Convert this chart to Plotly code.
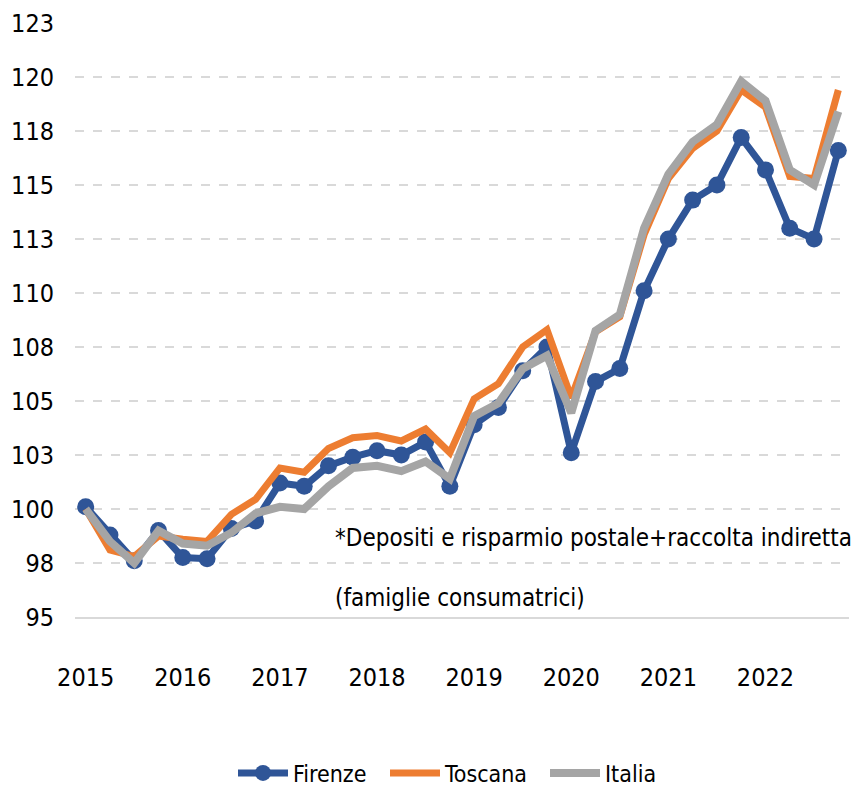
import plotly.graph_objects as go

quarters = list(range(32))
year_labels = ["2015", "2016", "2017", "2018", "2019", "2020", "2021", "2022"]
year_positions = [0, 4, 8, 12, 16, 20, 24, 28]

firenze = [100.1, 98.8, 97.6, 99.0, 97.75, 97.7, 99.1, 99.45,
           101.2, 101.05, 102.0, 102.4, 102.7, 102.5, 103.1, 101.05,
           103.9, 104.7, 106.4, 107.5, 102.6, 105.9, 106.5, 110.1,
           112.5, 114.3, 115.0, 117.2, 115.7, 113.0, 112.5, 116.6]
toscana = [100.0, 98.1, 97.8, 98.75, 98.6, 98.5, 99.75, 100.45,
           101.9, 101.7, 102.8, 103.3, 103.4, 103.15, 103.7, 102.6,
           105.1, 105.8, 107.5, 108.3, 105.15, 108.2, 108.9, 112.7,
           115.3, 116.7, 117.5, 119.4, 118.6, 115.4, 115.3, 119.4]
italia = [100.0, 98.5, 97.5, 99.0, 98.4, 98.3, 98.9, 99.8,
          100.1, 100.0, 101.05, 101.9, 102.0, 101.75, 102.2, 101.4,
          104.3, 104.9, 106.5, 107.1, 104.45, 108.25, 109.0, 113.0,
          115.5, 117.0, 117.8, 119.8, 118.9, 115.7, 115.0, 118.4]

y_ticks = [95, 97.5, 100, 102.5, 105, 107.5, 110, 112.5, 115, 117.5, 120, 122.5]
y_labels = ["95", "98", "100", "103", "105", "108", "110", "113", "115", "118", "120", "123"]

FONT = "DejaVu Sans Condensed, Liberation Sans Narrow, sans-serif"

fig = go.Figure()
fig.add_trace(go.Scatter(x=quarters, y=firenze, name="Firenze", mode="lines+markers",
                         line=dict(color="#2F5597", width=7),
                         marker=dict(color="#2F5597", size=17, symbol="circle"),
                         legend="legend"))
fig.add_trace(go.Scatter(x=quarters, y=toscana, name="Toscana", mode="lines",
                         line=dict(color="#ED7D31", width=7), legend="legend2"))
fig.add_trace(go.Scatter(x=quarters, y=italia, name="Italia", mode="lines",
                         line=dict(color="#A5A5A5", width=8), legend="legend3"))

fig.add_annotation(x=0.333, y=0.133, xref="paper", yref="paper", xanchor="left", yanchor="middle",
                   text="*Depositi e risparmio postale+raccolta indiretta", showarrow=False,
                   font=dict(family=FONT, size=24, color="#000000"))
fig.add_annotation(x=0.333, y=0.032, xref="paper", yref="paper", xanchor="left", yanchor="middle",
                   text="(famiglie consumatrici)", showarrow=False,
                   font=dict(family=FONT, size=24, color="#000000"))


def legend_box(xpx):
    return dict(orientation="h", x=xpx / 860, xanchor="left", xref="container",
                y=0.024, yanchor="middle", yref="container",
                font=dict(family=FONT, size=23, color="#000000"), itemwidth=50,
                bgcolor="rgba(0,0,0,0)", borderwidth=0)


fig.update_layout(
    width=860, height=792,
    margin=dict(l=75, r=11, t=23, b=175),
    paper_bgcolor="white", plot_bgcolor="white",
    font=dict(family=FONT, size=25, color="#000000"),
    showlegend=True,
    legend=legend_box(233),
    legend2=legend_box(385),
    legend3=legend_box(545),
    xaxis=dict(range=[-0.44, 31.44], tickmode="array", tickvals=year_positions, ticktext=year_labels,
               showgrid=False, zeroline=False, showline=True, linecolor="#D9D9D9", linewidth=2,
               ticks="", ticklabelstandoff=37, automargin=False, fixedrange=True),
    yaxis=dict(range=[95, 122.5], tickmode="array", tickvals=y_ticks, ticktext=y_labels,
               showgrid=True, gridcolor="#D9D9D9", gridwidth=2, griddash="dash",
               zeroline=False, showline=False, ticks="", ticklabelstandoff=20,
               automargin=False, fixedrange=True),
)

fig.write_html("out.html", config={"displayModeBar": False},
               post_script="document.body.style.margin='0';")
